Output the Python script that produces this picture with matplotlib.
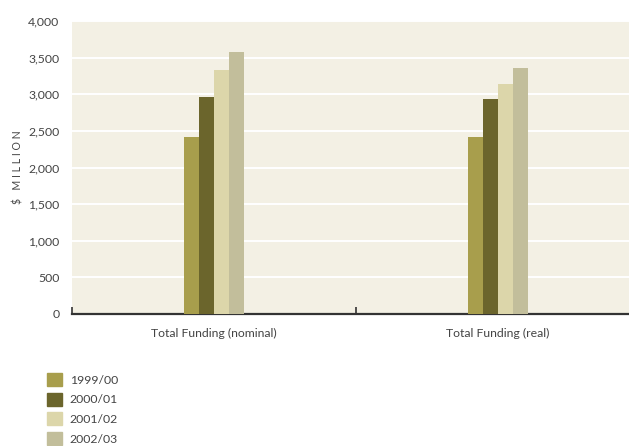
import matplotlib.pyplot as plt
import matplotlib.patches as mpatches
import numpy as np

# Funding by year, $ million
categories = ['Total Funding (nominal)', 'Total Funding (real)']
years = ['1999/00', '2000/01', '2001/02', '2002/03']
funding = {
    '1999/00': [2420, 2420],
    '2000/01': [2960, 2930],
    '2001/02': [3330, 3140],
    '2002/03': [3580, 3360],
}
colors = ['#a89e4c', '#6b652c', '#dcd6aa', '#c2be9b']

plt.rcParams['font.family'] = ['Lato', 'DejaVu Sans']

fig = plt.figure(figsize=(6.29, 4.46), dpi=100)
W, H = 629, 446
ax = fig.add_axes([72 / W, 1 - 314 / H, 568 / W, 293 / H])
ax.set_facecolor('#f3f0e4')

x = np.arange(len(categories))
width = 0.052
for i, (yr, c) in enumerate(zip(years, colors)):
    ax.bar(x + (i - 1.5) * width, funding[yr], width, color=c, zorder=3)

ax.set_ylim(0, 4000)
ax.set_xlim(-0.5, 1.5)
ax.set_yticks(np.arange(0, 4001, 500))
ax.set_yticklabels([f'{v:,}' for v in range(0, 4001, 500)])
ax.yaxis.grid(True, color='white', linewidth=1.4, zorder=1)
ax.set_axisbelow(True)

# category labels sit under the bars, ticks mark the boundaries
ax.set_xticks([-0.5, 0.5, 1.5])
ax.set_xticklabels([])
ax.set_xticks(x, minor=True)
ax.set_xticklabels(categories, minor=True)
ax.tick_params(axis='x', which='major', direction='in', length=5, width=1.2, color='#333333')
ax.tick_params(axis='x', which='minor', length=0, pad=10, labelsize=8.8, labelcolor='#444444')
ax.tick_params(axis='y', length=0, pad=9, labelsize=8.8, labelcolor='#444444')

for s in ['top', 'right', 'left']:
    ax.spines[s].set_visible(False)
ax.spines['bottom'].set_color('#333333')
ax.spines['bottom'].set_linewidth(1.6)

fig.text(18 / W, 1 - 167 / H, '$   M I L L I O N', rotation=90, ha='center', va='center',
         fontsize=7.6, color='#444444')

handles = [mpatches.Patch(color=c, label=yr) for yr, c in zip(years, colors)]
fig.legend(handles=handles, loc='upper left', bbox_to_anchor=(36 / W, 1 - 362 / H),
           frameon=False, fontsize=8.8, handlelength=1.25, handleheight=1.25,
           handletextpad=0.6, labelspacing=0.55, labelcolor='#444444')

fig.savefig('out.png', dpi=100)
